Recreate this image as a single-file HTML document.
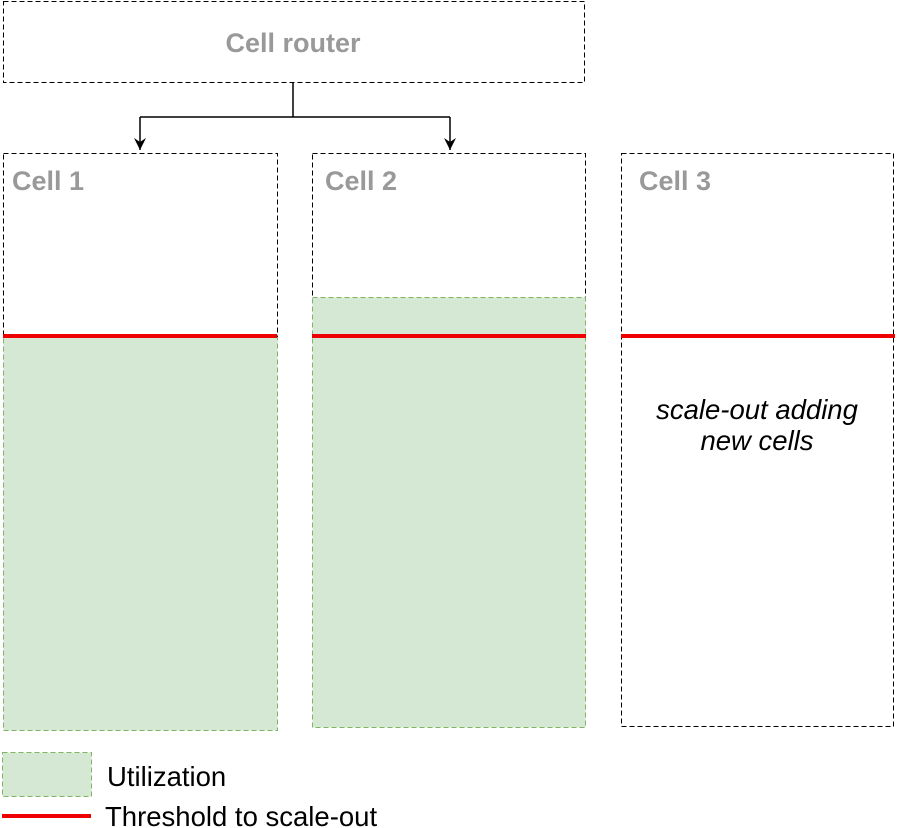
<!DOCTYPE html>
<html><head><meta charset="utf-8"><style>
html,body{margin:0;padding:0;background:#fff;}
svg{display:block;}
text{font-family:"Liberation Sans",Arial,sans-serif;}
</style></head><body>
<svg width="897" height="828" viewBox="0 0 897 828" xmlns="http://www.w3.org/2000/svg">
<defs><marker id="a" markerWidth="14" markerHeight="14" refX="6" refY="12" orient="0" markerUnits="userSpaceOnUse"><path d="M0,0 L6,12 L12,0 L6,4 Z" fill="#000"/></marker></defs>
<rect x="3.5" y="1.5" width="581" height="81" fill="#fff" stroke="#000" stroke-dasharray="5 3"/>
<text x="293" y="52" font-size="27" font-weight="bold" fill="#999" text-anchor="middle">Cell router</text>
<path d="M293 83 V117 M140 117 H450" stroke="#000" stroke-width="1.5" fill="none"/>
<path d="M140 117 V150" stroke="#000" stroke-width="1.5" marker-end="url(#a)"/>
<path d="M450 117 V150" stroke="#000" stroke-width="1.5" marker-end="url(#a)"/>
<rect x="3.5" y="153.5" width="274" height="577" fill="#fff" stroke="#000" stroke-dasharray="5 3"/>
<rect x="3.5" y="337.5" width="274" height="393" fill="#d5e8d4" stroke="#82b366" stroke-dasharray="5 3"/>
<rect x="312.5" y="153.5" width="273" height="574" fill="#fff" stroke="#000" stroke-dasharray="5 3"/>
<rect x="312.5" y="297.5" width="273" height="430" fill="#d5e8d4" stroke="#82b366" stroke-dasharray="5 3"/>
<rect x="621.5" y="153.5" width="272" height="573" fill="#fff" stroke="#000" stroke-dasharray="5 3"/>
<text x="12" y="190" font-size="27" font-weight="bold" fill="#999">Cell 1</text>
<text x="325" y="190" font-size="27" font-weight="bold" fill="#999">Cell 2</text>
<text x="639" y="190" font-size="27" font-weight="bold" fill="#999">Cell 3</text>
<line x1="3" y1="336" x2="277" y2="336" stroke="#e00" stroke-width="4"/>
<line x1="312" y1="336" x2="586" y2="336" stroke="#e00" stroke-width="4"/>
<line x1="621" y1="336" x2="895" y2="336" stroke="#e00" stroke-width="4"/>
<text x="757" y="419" font-size="27.5" font-style="italic" text-anchor="middle">scale-out adding</text>
<text x="757" y="450" font-size="27.5" font-style="italic" text-anchor="middle">new cells</text>
<rect x="2.5" y="752.5" width="89" height="44" fill="#d5e8d4" stroke="#82b366" stroke-dasharray="5 3"/>
<text x="107" y="786" font-size="27.5">Utilization</text>
<line x1="2" y1="816" x2="91" y2="816" stroke="#e00" stroke-width="4"/>
<text x="105" y="826" font-size="27.5">Threshold to scale-out</text>
</svg>
</body></html>
